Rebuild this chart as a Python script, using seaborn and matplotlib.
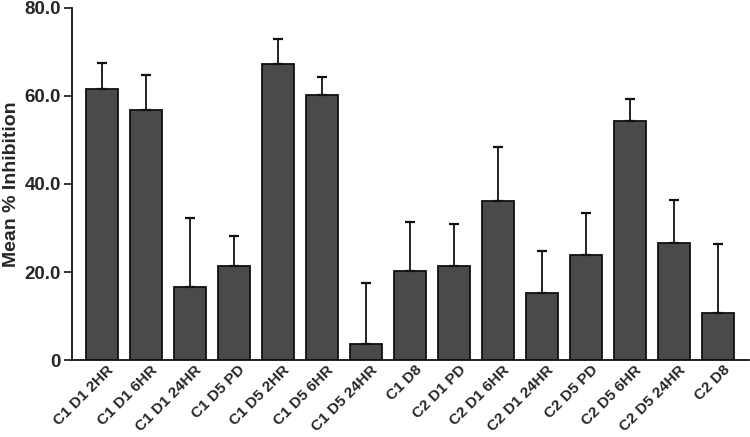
import matplotlib
matplotlib.use("Agg")
import matplotlib.pyplot as plt
import matplotlib.transforms as mtransforms
import seaborn as sns

labels = ['C1 D1 2HR', 'C1 D1 6HR', 'C1 D1 24HR', 'C1 D5 PD', 'C1 D5 2HR',
          'C1 D5 6HR', 'C1 D5 24HR', 'C1 D8', 'C2 D1 PD', 'C2 D1 6HR',
          'C2 D1 24HR', 'C2 D5 PD', 'C2 D5 6HR', 'C2 D5 24HR', 'C2 D8']
means = [61.6, 56.7, 16.5, 21.3, 67.3, 60.2, 3.6, 20.3, 21.3, 36.2,
         15.2, 23.9, 54.4, 26.7, 10.8]
errors = [5.8, 8.1, 15.7, 6.9, 5.7, 4.1, 13.9, 11.1, 9.7, 12.3,
          9.6, 9.6, 4.9, 9.7, 15.5]
yticks = [0, 20, 40, 60, 80]
ytick_labels = ['0', '20.0', '40.0', '60.0', '80.0']

sns.set_style('ticks')
plt.rcParams['font.family'] = ['Liberation Sans', 'DejaVu Sans']

fig = plt.figure(figsize=(7.5, 4.37), dpi=100)
ax = fig.add_axes([0.096, 0.176, 0.903, 0.806])

sns.barplot(x=labels, y=means, color='#4a4a4a', saturation=1, width=0.73,
            edgecolor='#111111', linewidth=1.3, ax=ax)
ax.errorbar(range(len(labels)), means, yerr=[[0] * len(errors), errors],
            fmt='none', ecolor='#111111', elinewidth=1.3, capsize=3.3,
            capthick=1.6)

ax.set_xlim(-0.68, 14.7)
ax.set_ylim(0, 80)
ax.set_yticks(yticks)
ax.set_yticklabels(ytick_labels, fontsize=13.5, fontweight='bold')
ax.set_xticks(range(len(labels)))
ax.set_xticklabels(labels, rotation=45, ha='right', rotation_mode='anchor',
                   fontsize=11, fontweight='bold')
ax.tick_params(axis='x', length=0, pad=2)
ax.tick_params(axis='y', length=6, width=1.3, pad=2)
shift = mtransforms.ScaledTranslation(3 / 72, 0, fig.dpi_scale_trans)
for lab in ax.get_xticklabels():
    lab.set_transform(lab.get_transform() + shift)
ax.set_ylabel('Mean % Inhibition', fontsize=14, fontweight='bold', labelpad=3)
sns.despine(ax=ax)
for s in ['left', 'bottom']:
    ax.spines[s].set_linewidth(1.3)
    ax.spines[s].set_color('#111111')

fig.savefig('out.png', dpi=100)
